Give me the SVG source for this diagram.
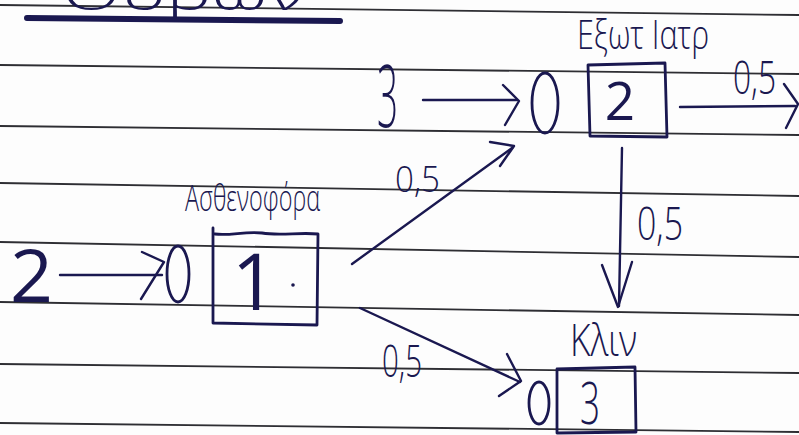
<svg xmlns="http://www.w3.org/2000/svg" width="799" height="435" viewBox="0 0 799 435">
  <style>
    .rule{stroke:#2e2e33;stroke-width:1.8;fill:none}
    .ink{stroke:#1a1850;fill:none;stroke-linecap:round;stroke-linejoin:round}
    .edge{stroke-width:2.4}
    .box{stroke-width:2.8}
    .lbl{font-family:"Open Sans","DejaVu Sans",sans-serif;font-weight:300;fill:#1a1850}
    .num{font-family:"Open Sans","DejaVu Sans",sans-serif;font-weight:400;fill:#1a1850}
  </style>
  <rect width="799" height="435" fill="#fdfdfd"/>

  <!-- ruled notebook paper -->
  <g id="paper">
    <line class="rule" x1="0" y1="5" x2="799" y2="15"/>
    <line class="rule" x1="0" y1="65" x2="799" y2="74"/>
    <line class="rule" x1="0" y1="126" x2="799" y2="135"/>
    <line class="rule" x1="0" y1="183" x2="799" y2="196"/>
    <line class="rule" x1="0" y1="242" x2="799" y2="257"/>
    <line class="rule" x1="0" y1="302" x2="799" y2="315"/>
    <line class="rule" x1="0" y1="364" x2="799" y2="373"/>
    <line class="rule" x1="0" y1="423" x2="799" y2="432"/>
  </g>

  <!-- heading, mostly above the sheet edge, with its underline -->
  <g id="title">
    <text class="lbl" x="62" y="10" font-size="48" textLength="245" lengthAdjust="spacingAndGlyphs">Ουρών</text>
    <path class="ink" d="M27,18 L340,21" stroke-width="6"/>
  </g>

  <!-- station 1 -->
  <g id="node-1">
    <ellipse class="ink box" cx="178" cy="274" rx="11" ry="28"/>
    <path class="ink box" d="M213,228 L213,323 L317,325 L318,234 C300,232 280,236 262,233 C245,231 230,236 215,234"/>
    <text class="num" x="254" y="310" font-size="78" text-anchor="middle">1</text>
    <circle cx="293" cy="285" r="1.8" fill="#1a1850"/>
    <text class="lbl" x="185" y="211" font-size="36" textLength="135" lengthAdjust="spacingAndGlyphs">Ασθενοφόρα</text>
  </g>

  <!-- station 2 -->
  <g id="node-2">
    <ellipse class="ink box" cx="545" cy="103" rx="13" ry="30"/>
    <path class="ink box" d="M588,65 L590,136 L667,137 L665,63 Z"/>
    <text class="num" x="620" y="120" font-size="53" text-anchor="middle">2</text>
    <text class="lbl" x="577" y="49" font-size="40" textLength="132" lengthAdjust="spacingAndGlyphs">Εξωτ Ιατρ</text>
  </g>

  <!-- station 3 -->
  <g id="node-3">
    <ellipse class="ink box" cx="539" cy="403" rx="10" ry="21"/>
    <path class="ink box" d="M557,369 L557,433 L636,432 L635,367 Z"/>
    <text class="lbl" x="580" y="424" font-size="58" textLength="20" lengthAdjust="spacingAndGlyphs">3</text>
    <text class="lbl" x="570" y="356" font-size="44" textLength="67" lengthAdjust="spacingAndGlyphs">Κλιν</text>
  </g>

  <!-- external arrivals -->
  <g id="arrivals">
    <text class="num" x="10" y="302" font-size="73" textLength="43" lengthAdjust="spacingAndGlyphs">2</text>
    <text class="lbl" x="377" y="127" font-size="86" textLength="21" lengthAdjust="spacingAndGlyphs">3</text>
  </g>

  <!-- routing connectors with probabilities -->
  <g id="connectors">
    <path class="ink edge" d="M60,275 L162,275"/>
    <path class="ink edge" d="M142,252 L164,262 L141,299"/>

    <path class="ink edge" d="M423,100 L517,100"/>
    <path class="ink edge" d="M503,85 L519,101 L505,125"/>

    <path class="ink edge" d="M680,107 L795,106"/>
    <path class="ink edge" d="M784,84 L798,104 L786,128"/>
    <text class="lbl" x="733" y="94" font-size="46" textLength="43" lengthAdjust="spacingAndGlyphs">0,5</text>

    <path class="ink edge" d="M622,148 L619,306"/>
    <path class="ink edge" d="M602,265 L618,307 L632,262"/>
    <text class="lbl" x="637" y="240" font-size="46" textLength="46" lengthAdjust="spacingAndGlyphs">0,5</text>

    <path class="ink edge" d="M352,264 L512,148"/>
    <path class="ink edge" d="M490,142 L514,146 L500,166"/>
    <text class="lbl" x="395" y="192" font-size="36" textLength="45" lengthAdjust="spacingAndGlyphs">0,5</text>

    <path class="ink edge" d="M360,308 L520,382"/>
    <path class="ink edge" d="M507,354 L521,381 L499,396"/>
    <text class="lbl" x="382" y="377" font-size="44" textLength="40" lengthAdjust="spacingAndGlyphs">0,5</text>
  </g>
</svg>
